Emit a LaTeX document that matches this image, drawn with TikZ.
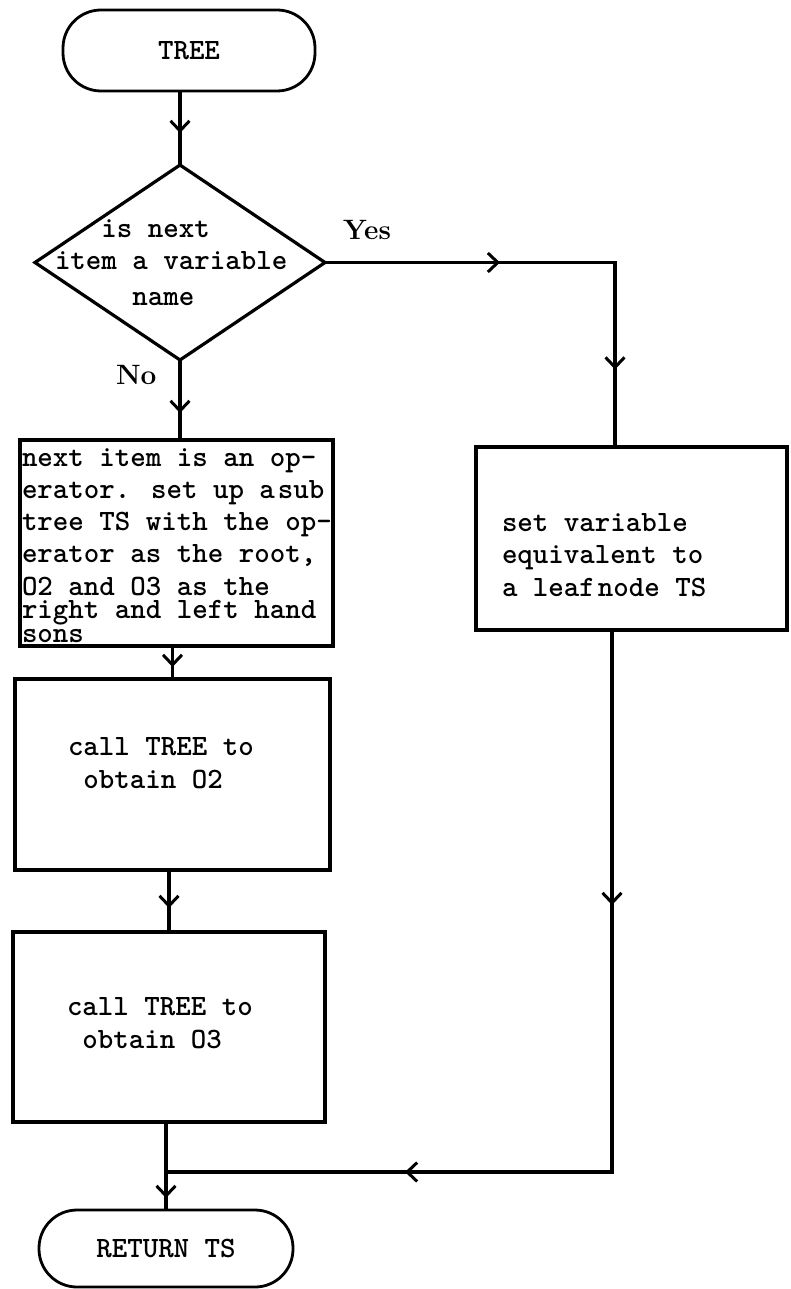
\documentclass[tikz,border=0pt]{standalone}
\usetikzlibrary{arrows.meta,decorations.markings,shapes.geometric}
\begin{document}
\begin{tikzpicture}[x=1pt,y=-1pt,
  every node/.style={inner sep=0pt, outer sep=0pt},
  flowline/.style={line width=3.2pt},
  boxshape/.style={draw, rectangle, line width=3.2pt},
  term/.style={draw, rectangle, line width=2.8pt, rounded corners=38pt},
  tt/.style={font=\ttfamily\bfseries\fontsize{29.5}{32.5}\selectfont},
  lab/.style={font=\rmfamily\bfseries\fontsize{28}{30}\selectfont},
  >={Straight Barb[length=10pt,width=19pt,line width=3pt]},
  arrowsat/.style={postaction={decorate, decoration={markings, mark=at position #1 with {\arrow{>}}}}}
]
\path[use as bounding box, fill=white] (0,0) rectangle (790,1289);

% nodes
\node[term, tt, minimum width=252pt, minimum height=81pt] (tree) at (189,50.5) {TREE};
\node[diamond, draw, line width=3.2pt, minimum width=290pt, minimum height=195pt] (dia) at (180,262.5) {};
\node[tt, align=left, anchor=base west] (diatext) at (55,305) {\hphantom{xxx}is next\\item a variable\\[3pt]\hphantom{xxxxx}name};

\node[boxshape, minimum width=313pt, minimum height=206pt] (b1) at (176.5,543) {};
\node[tt, align=left, anchor=base west] (b1text) at (22,642) {next item is an op-\\[-0.5pt]erator. set up a\kern3pt sub\\[-0.5pt]tree TS with the op-\\[-0.5pt]erator as the root,\\[0.5pt]O2 and O3 as the\\[-9.5pt]right and left hand\\[-8.5pt]sons};

\node[boxshape, minimum width=315pt, minimum height=191pt] (b2) at (172.5,774.5) {};
\node[tt, align=left, anchor=base west] (b2text) at (68,788) {call TREE to\\\hphantom{x}obtain O2};

\node[boxshape, minimum width=312pt, minimum height=190pt] (b3) at (169,1027) {};
\node[tt, align=left, anchor=base west] (b3text) at (67,1048) {call TREE to\\\hphantom{x}obtain O3};

\node[boxshape, minimum width=311pt, minimum height=183pt] (rb) at (631.5,538.5) {};
\node[tt, align=left, anchor=base west] (rbtext) at (502,596) {set variable\\equivalent to\\a leaf\kern3pt node TS};

\node[term, tt, minimum width=254pt, minimum height=77pt] (ret) at (166,1248.5) {RETURN TS};

\node[lab, anchor=base west] (yes) at (343,240) {Yes};
\node[lab, anchor=base west] (no) at (116,384) {No};

\coordinate (c1) at (615,262.5);
\coordinate (c2) at (612,1172);
\coordinate (merge) at (ret.north |- c2);

% connectors
\draw[flowline, arrowsat=42pt] (dia.north |- tree.south) -- (dia.north);
\draw[flowline, arrowsat=53pt] (dia.south) -- (dia.south |- b1.north);
\draw[flowline, arrowsat=175pt, arrowsat=397pt] (dia.east) -- (c1) -- (c1 |- rb.north);
\draw[flowline, arrowsat=21pt] (b1.south -| b2.north) -- (b2.north);
\draw[flowline, arrowsat=38pt] (b2.south -| b3.north) -- (b3.north);
\draw[flowline, arrowsat=76pt] (b3.south -| ret.north) -- (ret.north);
\draw[flowline, arrowsat=275pt, arrowsat=749pt] (rb.south -| c2) -- (c2) -- (merge);
\end{tikzpicture}
\end{document}
